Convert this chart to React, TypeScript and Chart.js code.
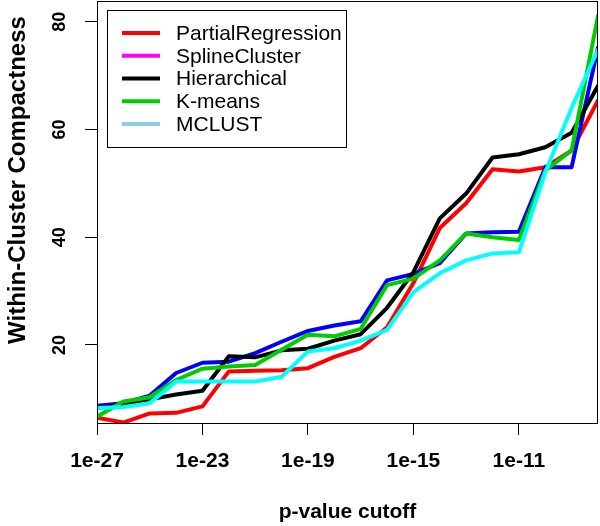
import React, { useEffect, useRef } from "react";
import { Chart, registerables } from "chart.js";

Chart.register(...registerables);

// ---- data ----
const exponents = [-27, -26, -25, -24, -23, -22, -21, -20, -19, -18, -17, -16, -15, -14, -13, -12, -11, -10, -9, -8];
const xTickExponents = [-27, -23, -19, -15, -11];
const yTicks = [20, 40, 60, 80];
const seriesNames = ["PartialRegression", "SplineCluster", "Hierarchical", "K-means", "MCLUST"];

const partialRegression = [6.5, 5.6, 7.3, 7.4, 8.6, 15.1, 15.2, 15.3, 15.7, 17.8, 19.4, 23.3, 31.5, 41.7, 46.3, 52.6, 52.2, 53.0, 56.1, 65.4];
const splineCluster = [8.7, 9.2, 10.6, 14.8, 16.7, 16.9, 18.5, 20.6, 22.6, 23.6, 24.4, 32.0, 33.2, 35.2, 40.7, 40.9, 41.0, 53.0, 53.0, 75.2];
const hierarchical = [8.3, 9.0, 9.9, 10.8, 11.5, 17.9, 17.7, 19.0, 19.3, 20.8, 22.0, 26.9, 33.5, 43.5, 48.1, 54.8, 55.4, 56.7, 59.4, 68.1];
const kMeans = [6.7, 9.5, 10.3, 13.5, 15.6, 16.0, 16.3, 19.1, 21.9, 21.6, 23.0, 31.1, 32.3, 35.7, 40.7, 40.0, 39.5, 52.4, 56.1, 81.1];
const mclust = [8.3, 8.5, 9.2, 13.2, 13.2, 13.2, 13.2, 14.1, 18.8, 19.4, 20.8, 22.8, 29.8, 33.3, 35.7, 37.0, 37.2, 52.0, 64.0, 74.8];

const lineColors = ["#ff0000", "#0000ff", "#000000", "#00cd00", "#00ffff"];
const legendColors = ["#ff0000", "#ff00ff", "#000000", "#00cd00", "#87ceeb"];

const xTitle = "p-value cutoff";
const yTitle = "Within-Cluster Compactness";

const FONT = "'Liberation Sans', Arial, Helvetica, sans-serif";

const decorPlugin = {
  id: "decor",
  afterDatasetsDraw(chart: any) {
    const ctx = chart.ctx;
    const ca = chart.chartArea;
    const yScale = chart.scales.y;
    ctx.save();
    // frame
    ctx.strokeStyle = "#000";
    ctx.lineWidth = 1;
    ctx.strokeRect(ca.left + 0.5, ca.top + 0.5, ca.right - ca.left - 1, ca.bottom - ca.top);

    ctx.fillStyle = "#000";
    // y tick labels (rotated)
    ctx.font = `bold 18px ${FONT}`;
    ctx.textAlign = "center";
    ctx.textBaseline = "alphabetic";
    yTicks.forEach((v) => {
      const y = yScale.getPixelForValue(v);
      ctx.save();
      ctx.translate(65, y);
      ctx.rotate(-Math.PI / 2);
      ctx.fillText(String(v), 0, 0);
      ctx.restore();
    });

    // y title
    ctx.font = `bold 24px ${FONT}`;
    ctx.save();
    ctx.translate(25, 180);
    ctx.rotate(-Math.PI / 2);
    ctx.fillText(yTitle, 0, 0);
    ctx.restore();

    // x title
    ctx.font = `bold 21px ${FONT}`;
    ctx.fillText(xTitle, (ca.left + ca.right) / 2, 518);

    // legend
    const lx = 107, ly = 10, lw = 239, lh = 137;
    ctx.fillStyle = "#fff";
    ctx.fillRect(lx, ly, lw, lh);
    ctx.strokeStyle = "#000";
    ctx.lineWidth = 1;
    ctx.strokeRect(lx + 0.5, ly + 0.5, lw, lh);
    ctx.font = `21px ${FONT}`;
    ctx.textAlign = "left";
    ctx.textBaseline = "middle";
    seriesNames.forEach((name, i) => {
      const y = 33 + i * 22.75;
      ctx.strokeStyle = legendColors[i];
      ctx.lineWidth = 4;
      ctx.beginPath();
      ctx.moveTo(122, y);
      ctx.lineTo(160, y);
      ctx.stroke();
      ctx.fillStyle = "#000";
      ctx.fillText(name, 176, y + 1);
    });
    ctx.restore();
  },
};

export default function App() {
  const canvasRef = useRef<HTMLCanvasElement | null>(null);

  useEffect(() => {
    if (!canvasRef.current) return;
    const series = [partialRegression, splineCluster, hierarchical, kMeans, mclust];
    const chart = new Chart(canvasRef.current, {
      type: "line",
      data: {
        datasets: series.map((vals, i) => ({
          label: seriesNames[i],
          data: vals.map((v, j) => ({ x: Math.pow(10, exponents[j]), y: v })),
          borderColor: lineColors[i],
          backgroundColor: lineColors[i],
          borderWidth: 4,
          pointRadius: 0,
          pointHoverRadius: 0,
          fill: false,
          tension: 0,
          borderJoinStyle: "round",
          borderCapStyle: "round",
          clip: 0,
          order: series.length - i,
        })),
      },
      options: {
        animation: false,
        responsive: false,
        devicePixelRatio: 1,
        layout: { padding: { top: 1, right: 2, left: 0, bottom: 0 } },
        plugins: { legend: { display: false }, tooltip: { enabled: false } },
        events: [],
        scales: {
          x: {
            type: "logarithmic",
            min: Math.pow(10, exponents[0]),
            max: Math.pow(10, exponents[exponents.length - 1]),
            afterBuildTicks: (s: any) => {
              s.ticks = xTickExponents.map((e) => ({ value: Math.pow(10, e) }));
            },
            afterFit: (s: any) => {
              s.height = 103;
            },
            ticks: {
              callback: (v: any) => "1e" + Math.round(Math.log10(Number(v))),
              font: { family: FONT, size: 21, weight: "bold" },
              color: "#000",
              padding: 14,
              maxRotation: 0,
              minRotation: 0,
              autoSkip: false,
            },
            grid: { drawOnChartArea: false, drawTicks: true, tickLength: 12, color: "#000", lineWidth: 1 },
            border: { display: false },
          },
          y: {
            type: "linear",
            min: 5.52,
            max: 83.84,
            afterBuildTicks: (s: any) => {
              s.ticks = yTicks.map((v) => ({ value: v }));
            },
            afterFit: (s: any) => {
              s.width = 97;
            },
            ticks: { display: false },
            grid: { drawOnChartArea: false, drawTicks: true, tickLength: 12, color: "#000", lineWidth: 1 },
            border: { display: false },
          },
        },
      },
      plugins: [decorPlugin],
    } as any);
    return () => chart.destroy();
  }, []);

  return (
    <div style={{ position: "absolute", left: 0, top: 0, width: 600, height: 526, background: "#fff" }}>
      <canvas ref={canvasRef} width={600} height={526} style={{ display: "block" }} />
    </div>
  );
}
